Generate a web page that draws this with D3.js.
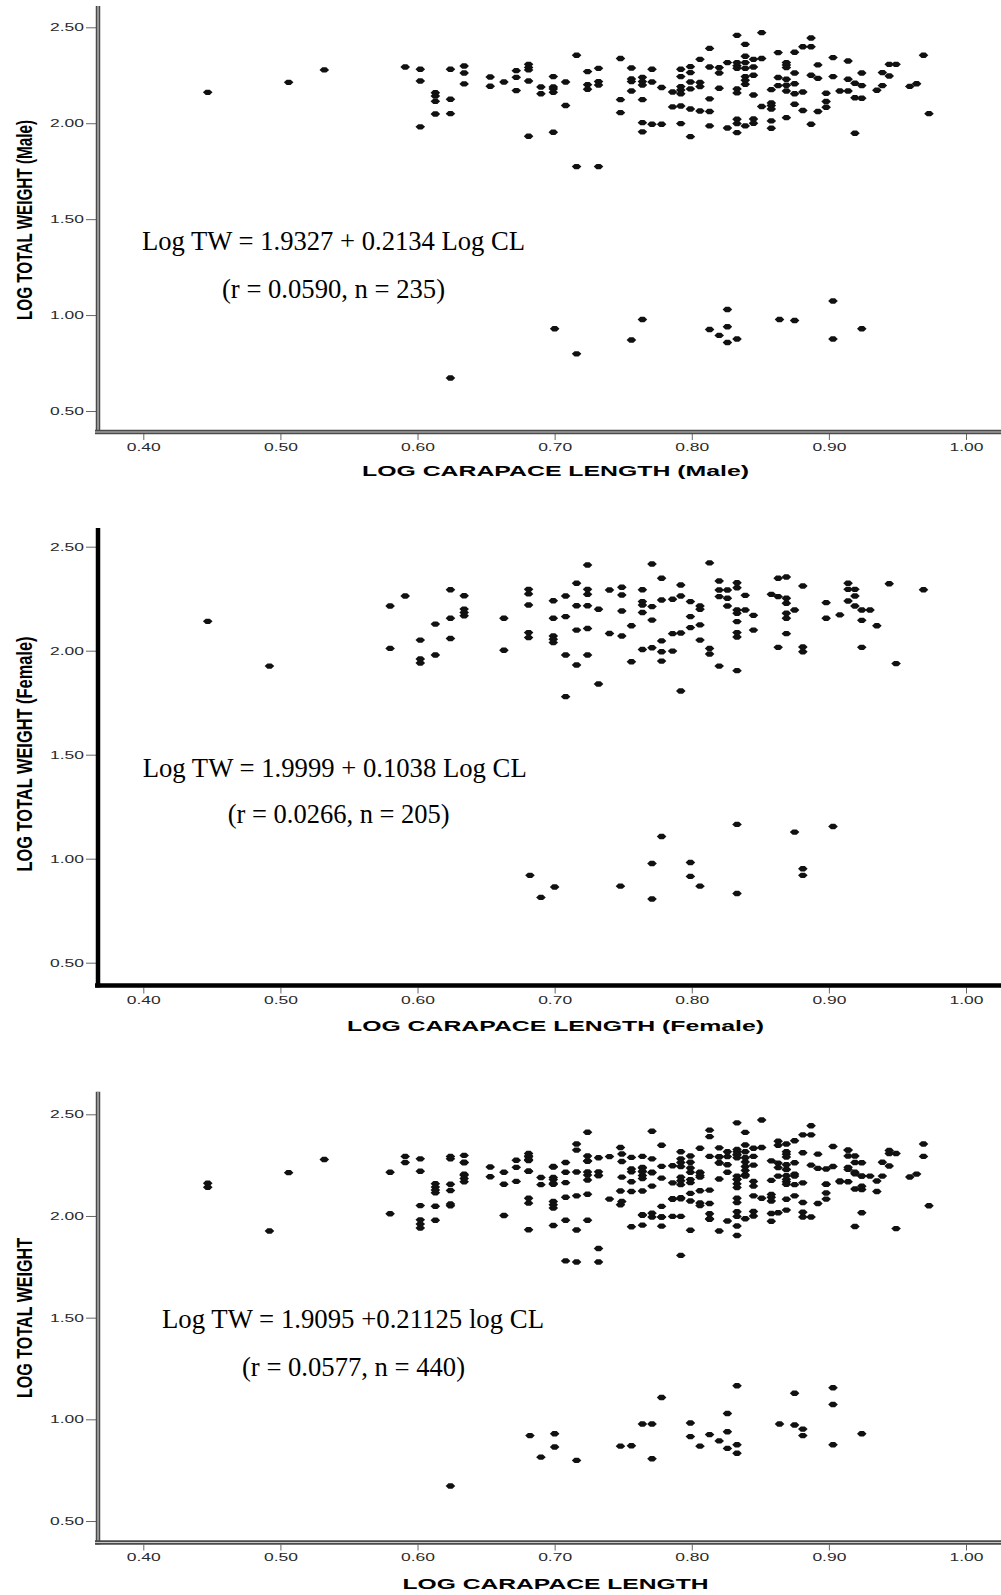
<!DOCTYPE html>
<html><head><meta charset="utf-8">
<script src="https://cdn.jsdelivr.net/npm/d3@7"></script>
<style>body{margin:0;background:#fff}</style></head><body>
<svg id="c" width="1001" height="1595"></svg>
<script>
const xTicks = [0.4, 0.5, 0.6, 0.7, 0.8, 0.9, 1.0];
const yTicks = [0.5, 1.0, 1.5, 2.0, 2.5];

const malePoints = [
[0.447,2.161],[0.506,2.213],[0.532,2.278],[0.591,2.293],
[0.602,2.281],[0.602,2.220],[0.602,1.981],
[0.613,2.159],[0.613,2.142],[0.613,2.114],[0.613,2.048],
[0.624,2.281],[0.624,2.125],[0.624,2.050],
[0.634,2.298],[0.634,2.262],[0.634,2.205],
[0.653,2.241],[0.653,2.193],[0.663,2.215],
[0.672,2.274],[0.672,2.239],[0.672,2.170],
[0.681,2.307],[0.681,2.291],[0.681,2.278],[0.681,2.220],[0.681,1.932],
[0.690,2.189],[0.690,2.154],
[0.699,2.243],[0.699,2.189],[0.699,2.179],[0.699,2.161],[0.699,1.953],
[0.708,2.215],[0.708,2.092],
[0.716,2.354],[0.716,1.774],
[0.724,2.269],[0.724,2.201],[0.724,2.177],
[0.732,2.286],[0.732,2.217],[0.732,2.199],[0.732,1.774],
[0.748,2.337],[0.748,2.123],[0.748,2.055],
[0.756,2.288],[0.756,2.231],[0.756,2.217],[0.756,2.168],
[0.764,2.239],[0.764,2.217],[0.764,2.199],[0.764,2.123],[0.764,2.003],[0.764,1.955],
[0.771,2.281],[0.771,2.215],[0.771,1.995],
[0.778,2.186],[0.778,1.995],
[0.786,2.163],[0.786,2.085],
[0.792,2.281],[0.792,2.243],[0.792,2.191],[0.792,2.173],[0.792,2.154],[0.792,2.090],[0.792,1.998],
[0.799,2.295],[0.799,2.264],[0.799,2.215],[0.799,2.179],[0.799,2.074],[0.799,1.930],
[0.806,2.333],[0.806,2.212],[0.806,2.191],[0.806,2.064],
[0.813,2.390],[0.813,2.293],[0.813,2.127],[0.813,2.061],[0.813,1.986],
[0.820,2.290],[0.820,2.262],[0.820,2.182],
[0.826,2.316],[0.826,1.975],
[0.833,2.458],[0.833,2.316],[0.833,2.300],[0.833,2.286],[0.833,2.179],[0.833,2.158],[0.833,2.021],[0.833,1.998],[0.833,1.951],
[0.839,2.411],[0.839,2.349],[0.839,2.316],[0.839,2.286],[0.839,2.243],[0.839,2.224],[0.839,2.203],[0.839,1.986],
[0.845,2.333],[0.845,2.293],[0.845,2.250],[0.845,2.147],[0.845,2.022],[0.845,2.000],
[0.851,2.472],[0.851,2.337],[0.851,2.087],
[0.858,2.175],[0.858,2.106],[0.858,2.092],[0.858,2.074],[0.858,2.012],[0.858,1.974],
[0.863,2.368],[0.863,2.238],[0.863,2.196],
[0.869,2.316],[0.869,2.304],[0.869,2.290],[0.869,2.229],[0.869,2.198],[0.869,2.168],[0.869,2.029],
[0.875,2.370],[0.875,2.262],[0.875,2.206],[0.875,2.154],[0.875,2.099],
[0.881,2.399],[0.881,2.163],[0.881,2.066],
[0.887,2.444],[0.887,2.399],[0.887,2.250],[0.887,1.995],
[0.892,2.304],[0.892,2.234],[0.892,2.061],
[0.898,2.156],[0.898,2.113],[0.898,2.083],
[0.903,2.342],[0.903,2.243],[0.908,2.168],
[0.914,2.324],[0.914,2.229],[0.914,2.168],
[0.919,2.208],[0.919,2.133],[0.919,1.948],
[0.924,2.262],[0.924,2.196],[0.924,2.130],
[0.935,2.172],[0.939,2.264],[0.939,2.196],
[0.944,2.307],[0.949,2.307],[0.944,2.246],
[0.959,2.192],[0.964,2.206],[0.969,2.354],[0.973,2.050],
[0.624,0.672],[0.700,0.929],[0.716,0.798],[0.756,0.870],[0.764,0.977],
[0.813,0.925],[0.820,0.894],[0.826,1.029],[0.826,0.939],[0.826,0.857],[0.833,0.875],
[0.864,0.977],[0.875,0.972],[0.903,1.073],[0.903,0.875],[0.924,0.929]
];

const femalePoints = [
[0.447,2.141],[0.492,1.926],
[0.580,2.215],[0.580,2.011],[0.591,2.263],
[0.602,2.051],[0.602,1.960],[0.602,1.941],
[0.613,2.128],[0.613,1.979],
[0.624,2.293],[0.624,2.156],[0.624,2.059],
[0.634,2.264],[0.634,2.200],[0.634,2.184],[0.634,2.168],
[0.663,2.156],[0.663,2.002],
[0.681,2.295],[0.681,2.273],[0.681,2.220],[0.681,2.087],[0.681,2.063],
[0.699,2.240],[0.699,2.156],[0.699,2.071],[0.699,2.055],[0.699,2.039],
[0.708,2.263],[0.708,2.164],[0.708,1.979],[0.708,1.779],
[0.716,2.324],[0.716,2.216],[0.716,2.099],[0.716,1.931],
[0.724,2.412],[0.724,2.295],[0.724,2.271],[0.724,2.216],[0.724,2.107],[0.724,1.979],
[0.732,2.199],[0.732,1.840],
[0.740,2.292],[0.740,2.083],
[0.749,2.305],[0.749,2.268],[0.749,2.191],[0.749,2.071],
[0.756,2.120],[0.756,1.947],
[0.764,2.293],[0.764,2.236],[0.764,2.220],[0.764,2.184],[0.764,2.006],
[0.771,2.417],[0.771,2.212],[0.771,2.147],[0.771,2.014],
[0.778,2.348],[0.778,2.244],[0.778,2.047],[0.778,1.995],[0.778,1.950],
[0.786,2.247],[0.786,2.082],[0.786,1.998],
[0.792,2.316],[0.792,2.263],[0.792,2.085],[0.792,1.806],
[0.799,2.236],[0.799,2.164],[0.799,2.111],
[0.806,2.215],[0.806,2.199],[0.806,2.124],[0.806,2.051],
[0.813,2.422],[0.813,2.011],[0.813,1.984],
[0.820,2.335],[0.820,2.292],[0.820,2.260],[0.820,1.926],
[0.826,2.292],[0.826,2.252],[0.826,2.215],
[0.833,2.327],[0.833,2.303],[0.833,2.196],[0.833,2.180],[0.833,2.140],[0.833,2.087],[0.833,2.066],[0.833,1.904],
[0.839,2.266],[0.839,2.196],
[0.845,2.170],[0.845,2.099],
[0.858,2.271],
[0.863,2.348],[0.863,2.260],[0.863,2.016],
[0.869,2.354],[0.869,2.252],[0.869,2.228],[0.869,2.180],[0.869,2.156],[0.869,2.082],
[0.875,2.196],
[0.881,2.311],[0.881,2.018],[0.881,1.995],
[0.898,2.231],[0.898,2.156],[0.908,2.172],
[0.914,2.324],[0.914,2.295],[0.914,2.239],
[0.919,2.295],[0.919,2.263],[0.919,2.215],
[0.924,2.196],[0.930,2.196],[0.924,2.146],[0.924,2.016],
[0.935,2.120],[0.944,2.322],[0.949,1.938],[0.969,2.293],
[0.682,0.920],[0.690,0.814],[0.700,0.864],[0.748,0.868],[0.771,0.977],[0.771,0.806],
[0.778,1.107],[0.799,0.982],[0.799,0.915],[0.806,0.868],[0.833,1.165],[0.833,0.833],
[0.875,1.128],[0.881,0.952],[0.881,0.920],[0.903,1.155]
];

const allPoints = malePoints.concat(femalePoints);

const yTitles = ["LOG TOTAL WEIGHT (Male)", "LOG TOTAL WEIGHT (Female)", "LOG TOTAL WEIGHT"];
const xTitles = ["LOG CARAPACE LENGTH (Male)", "LOG CARAPACE LENGTH (Female)", "LOG CARAPACE LENGTH"];
const eqLine1 = ["Log TW = 1.9327 + 0.2134 Log CL", "Log TW = 1.9999 + 0.1038 Log CL", "Log TW = 1.9095 +0.21125 log CL"];
const eqLine2 = ["(r = 0.0590, n = 235)", "(r = 0.0266, n = 205)", "(r = 0.0577, n = 440)"];

const panels = [
  {pts: malePoints, y05: 411, y25: 27.3, top: 6, axY: 432, style: "double",
   ytC: 220, ytL: 200, xtY: 471, xtL: 387, e1: [142, 250, 383], e2: [222, 297.5, 223]},
  {pts: femalePoints, y05: 962.7, y25: 546.7, top: 528, axY: 985.5, style: "solid",
   ytC: 754, ytL: 235, xtY: 1026, xtL: 417, e1: [142.7, 776.7, 384], e2: [227.7, 823.3, 222]},
  {pts: allPoints, y05: 1521, y25: 1114.3, top: 1091.7, axY: 1542.5, style: "double",
   ytC: 1318, ytL: 160, xtY: 1583.5, xtL: 306, e1: [162, 1327.7, 382], e2: [242, 1376, 223]}
];

const svg = d3.select("#c");
const x = d3.scaleLinear().domain([0.4, 1.0]).range([143.3, 966]);
const marker = "M-4.8,0L-2,-2.7L2,-2.7L4.8,0L2,2.7L-2,2.7Z";
const axX = 98;

panels.forEach((p, i) => {
  const y = d3.scaleLinear().domain([0.5, 2.5]).range([p.y05, p.y25]);
  const g = svg.append("g");

  const ya = g.append("g").attr("transform", `translate(${axX - 2},0)`)
    .call(d3.axisLeft(y).tickValues(yTicks).tickSize(10).tickPadding(2).tickFormat(d3.format(".2f")));
  const xa = g.append("g").attr("transform", `translate(0,${p.axY + 2})`)
    .call(d3.axisBottom(x).tickValues(xTicks).tickSize(6).tickFormat(d3.format(".2f")));
  [ya, xa].forEach(a => {
    a.select(".domain").remove();
    a.selectAll(".tick line").attr("stroke", "#666").attr("stroke-width", 1);
    a.selectAll(".tick text")
      .attr("font-family", "'Liberation Sans', Arial, sans-serif")
      .attr("font-size", 11).attr("fill", "#2a2a2a")
      .attr("textLength", 34).attr("lengthAdjust", "spacingAndGlyphs");
  });
  xa.selectAll(".tick text").attr("y", 13).attr("dy", "0.35em");

  const lines = [[axX, p.top, axX, p.axY + 2], [95, p.axY, 1001, p.axY]];
  lines.forEach(l => {
    const ln = g.append("line").attr("x1", l[0]).attr("y1", l[1]).attr("x2", l[2]).attr("y2", l[3]);
    if (p.style === "solid") {
      ln.attr("stroke", "#000").attr("stroke-width", 4.5);
    } else {
      ln.attr("stroke", "#4a4a4a").attr("stroke-width", 4.5);
      g.append("line").attr("x1", l[0]).attr("y1", l[1]).attr("x2", l[2]).attr("y2", l[3])
        .attr("stroke", "#c8c8c8").attr("stroke-width", 1.2);
    }
  });

  g.append("g").selectAll("path").data(p.pts).join("path")
    .attr("d", marker)
    .attr("transform", d => `translate(${x(d[0])},${y(d[1])})`)
    .attr("fill", "#111");

  g.append("text").attr("transform", `translate(24,${p.ytC}) rotate(-90)`)
    .attr("text-anchor", "middle").attr("dominant-baseline", "central")
    .attr("font-family", "'Liberation Sans Narrow', 'Arial Narrow', 'Liberation Sans', sans-serif")
    .attr("font-weight", "bold").attr("font-size", 22)
    .attr("textLength", p.ytL).attr("lengthAdjust", "spacingAndGlyphs")
    .text(yTitles[i]);
  g.append("text").attr("x", 555.5).attr("y", p.xtY)
    .attr("text-anchor", "middle").attr("dominant-baseline", "central")
    .attr("font-family", "'Liberation Sans', Arial, sans-serif")
    .attr("font-weight", "bold").attr("font-size", 14.5)
    .attr("textLength", p.xtL).attr("lengthAdjust", "spacingAndGlyphs")
    .text(xTitles[i]);

  [[p.e1, eqLine1[i]], [p.e2, eqLine2[i]]].forEach(([pos, t]) => {
    g.append("text").attr("x", pos[0]).attr("y", pos[1])
      .attr("font-family", "'Liberation Serif', 'Times New Roman', serif")
      .attr("font-size", 27).attr("fill", "#000")
      .attr("textLength", pos[2]).attr("lengthAdjust", "spacingAndGlyphs")
      .text(t);
  });
});
</script>
</body></html>
